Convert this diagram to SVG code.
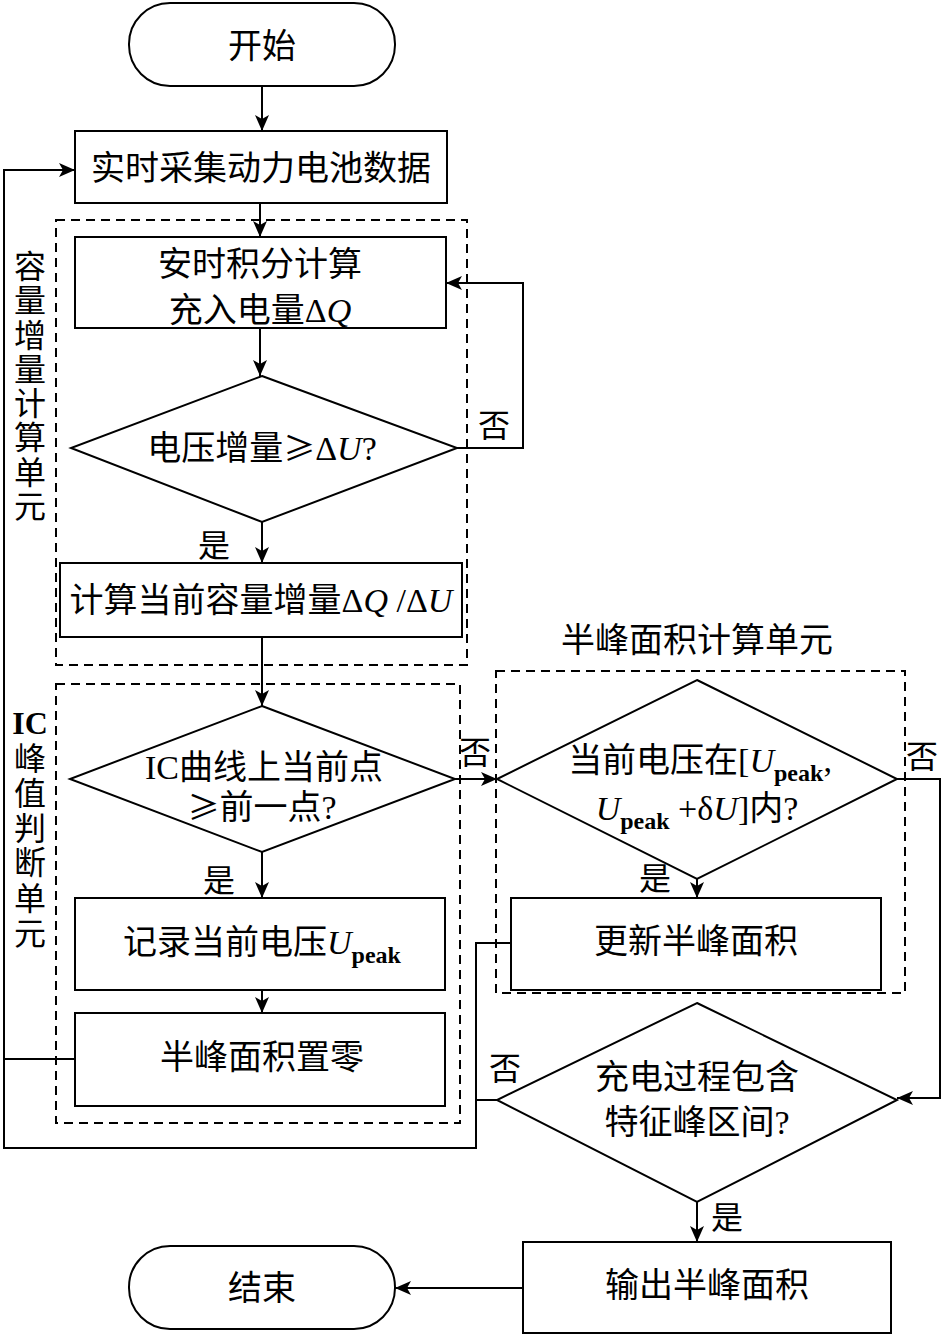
<svg xmlns="http://www.w3.org/2000/svg" width="944" height="1338" viewBox="0 0 944 1338">
<style>
.n{fill:#fff;stroke:#000;stroke-width:2}
.d{fill:none;stroke:#000;stroke-width:2;stroke-dasharray:9,6}
.c{fill:none;stroke:#000;stroke-width:2}
text{font-family:"Liberation Serif","Noto Sans CJK SC",serif;font-size:34px;fill:#000;text-anchor:middle}
.l{font-size:32px}
.i{font-style:italic}
.s{font-size:24px;font-weight:bold}
.g{font-family:"Noto Sans CJK SC",sans-serif;font-size:32px}
</style>
<defs>
<marker id="a" markerUnits="userSpaceOnUse" markerWidth="18" markerHeight="16" refX="16" refY="7" orient="auto">
<path d="M0,0 L16,7 L0,14 L4,7 z" fill="#000"/>
</marker>
</defs>
<g id="frames">
<rect class="d" x="56" y="220" width="411" height="445"/>
<rect class="d" x="56" y="684" width="404" height="439"/>
<rect class="d" x="496" y="671" width="409" height="322"/>
</g>
<g id="unit-labels">
<text class="l" x="30" y="278">容</text>
<text class="l" x="30" y="312">量</text>
<text class="l" x="30" y="347">增</text>
<text class="l" x="30" y="381">量</text>
<text class="l" x="30" y="415">计</text>
<text class="l" x="30" y="449">算</text>
<text class="l" x="30" y="484">单</text>
<text class="l" x="30" y="518">元</text>
<text class="l" x="30" y="734" font-weight="bold">IC</text>
<text class="l" x="30" y="770">峰</text>
<text class="l" x="30" y="805">值</text>
<text class="l" x="30" y="840">判</text>
<text class="l" x="30" y="874">断</text>
<text class="l" x="30" y="910">单</text>
<text class="l" x="30" y="945">元</text>
<text x="697" y="652">半峰面积计算单元</text>
</g>
<g id="start">
<rect class="n" x="129" y="3" width="266" height="83" rx="41" ry="41"/>
<text x="262" y="58">开始</text>
</g>
<g id="collect">
<rect class="n" x="75" y="131" width="372" height="72"/>
<text x="261" y="180">实时采集动力电池数据</text>
</g>
<g id="integrate">
<rect class="n" x="75" y="237" width="371" height="91"/>
<text x="260" y="276">安时积分计算</text>
<text x="260" y="322">充入电量Δ<tspan class="i">Q</tspan></text>
</g>
<g id="dec-voltage">
<polygon class="n" points="262,376 457,448 262,522 71,448"/>
<text x="262" y="460">电压增量<tspan class="g">≥</tspan>Δ<tspan class="i">U</tspan>?</text>
</g>
<g id="calc-ic">
<rect class="n" x="60" y="563" width="402" height="74"/>
<text x="261" y="612">计算当前容量增量Δ<tspan class="i">Q</tspan> /Δ<tspan class="i">U</tspan></text>
</g>
<g id="dec-ic">
<polygon class="n" points="262,706 455,779 262,852 70,779"/>
<text x="264" y="779">IC曲线上当前点</text>
<text x="262" y="819"><tspan class="g">≥</tspan>前一点?</text>
</g>
<g id="record">
<rect class="n" x="75" y="898" width="370" height="92"/>
<text x="262" y="954">记录当前电压<tspan class="i">U</tspan><tspan class="s" dy="9">peak</tspan></text>
</g>
<g id="reset">
<rect class="n" x="75" y="1013" width="370" height="93"/>
<text x="262" y="1069">半峰面积置零</text>
</g>
<g id="dec-range">
<polygon class="n" points="697,680 897,779 697,879 497,779"/>
<text x="700" y="772">当前电压在[<tspan class="i">U</tspan><tspan class="s" dy="9">peak</tspan><tspan dy="-9">,</tspan></text>
<text x="697" y="820"><tspan class="i">U</tspan><tspan class="s" dy="9">peak</tspan><tspan dy="-9"> +δ</tspan><tspan class="i">U</tspan>]内?</text>
</g>
<g id="update">
<rect class="n" x="511" y="898" width="370" height="92"/>
<text x="696" y="953">更新半峰面积</text>
</g>
<g id="dec-contain">
<polygon class="n" points="697,1003 897,1100 697,1202 497,1100"/>
<text x="697" y="1089">充电过程包含</text>
<text x="697" y="1134">特征峰区间?</text>
</g>
<g id="output">
<rect class="n" x="523" y="1242" width="368" height="91"/>
<text x="707" y="1297">输出半峰面积</text>
</g>
<g id="end">
<rect class="n" x="129" y="1246" width="266" height="83" rx="41" ry="41"/>
<text x="262" y="1300">结束</text>
</g>
<g id="connectors">
<path class="c" d="M262,86 V131" marker-end="url(#a)"/>
<path class="c" d="M260,203 V237" marker-end="url(#a)"/>
<path class="c" d="M260,328 V376" marker-end="url(#a)"/>
<path class="c" d="M457,448 H523 V283 H446" marker-end="url(#a)"/>
<path class="c" d="M262,522 V563" marker-end="url(#a)"/>
<path class="c" d="M262,637 V706" marker-end="url(#a)"/>
<path class="c" d="M455,779 H497" marker-end="url(#a)"/>
<path class="c" d="M262,852 V898" marker-end="url(#a)"/>
<path class="c" d="M262,990 V1013" marker-end="url(#a)"/>
<path class="c" d="M697,879 V898" marker-end="url(#a)"/>
<path class="c" d="M897,779 H940 V1098 H897" marker-end="url(#a)"/>
<path class="c" d="M697,1202 V1242" marker-end="url(#a)"/>
<path class="c" d="M523,1288 H395" marker-end="url(#a)"/>
<path class="c" d="M511,943 H476 V1148 H4 V170 H75" marker-end="url(#a)"/>
<path class="c" d="M75,1059 H4"/>
<path class="c" d="M497,1100 H476"/>
<text class="l" x="494" y="437">否</text>
<text class="l" x="214" y="557">是</text>
<text class="l" x="475" y="764">否</text>
<text class="l" x="219" y="892">是</text>
<text class="l" x="655" y="890">是</text>
<text class="l" x="922" y="768">否</text>
<text class="l" x="505" y="1080">否</text>
<text class="l" x="727" y="1229">是</text>
</g>
</svg>
